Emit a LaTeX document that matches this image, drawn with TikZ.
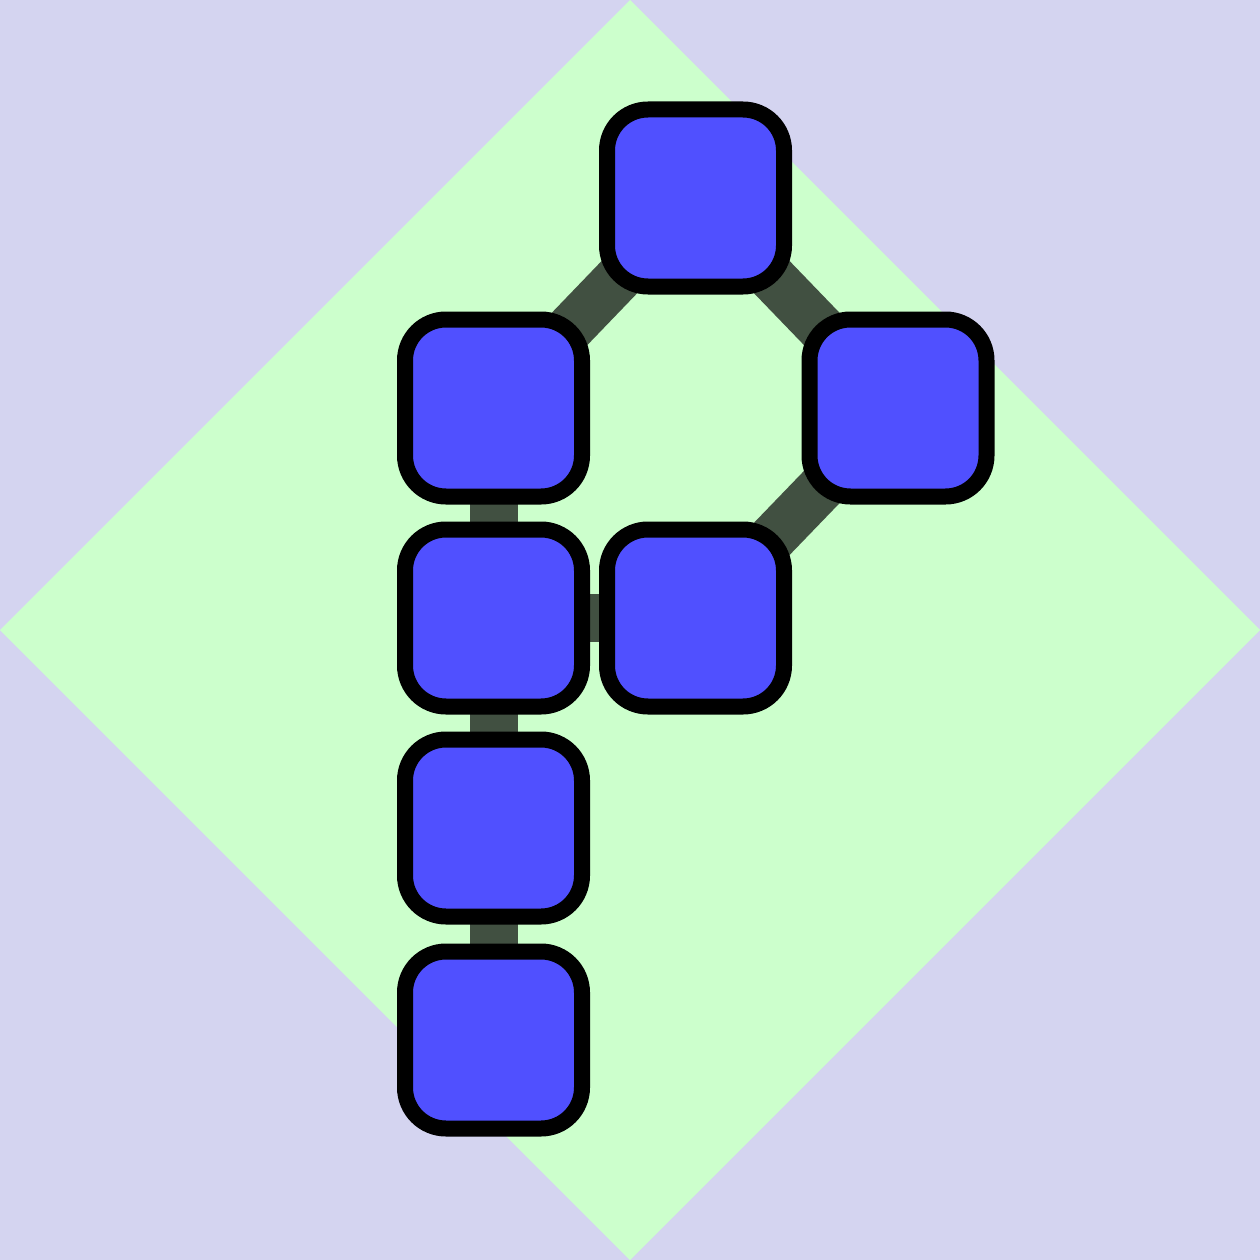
\documentclass[tikz,border=0pt]{standalone}
\usetikzlibrary{backgrounds}
\definecolor{bgl}{HTML}{D4D4F0}
\definecolor{dia}{HTML}{CCFFCC}
\definecolor{nodeblue}{HTML}{5050FF}
\definecolor{conn}{HTML}{415041}
\begin{document}
\begin{tikzpicture}[x=1pt,y=-1pt,
  sq/.style={draw=black,fill=nodeblue,line width=16pt,rounded corners=41pt,minimum size=177pt,inner sep=0pt,outer sep=0pt},
  link/.style={draw=conn,line width=48pt}]
\useasboundingbox (0,0) rectangle (1260,1260);
\node[sq] (top) at (695.5,198) {};
\node[sq] (la) at (493.5,408) {};
\node[sq] (rt) at (898,408) {};
\node[sq] (lb) at (493.5,618) {};
\node[sq] (md) at (695.5,618) {};
\node[sq] (lc) at (493.5,828) {};
\node[sq] (ld) at (493.5,1040) {};
\begin{scope}[on background layer]
\fill[bgl] (0,0) rectangle (1260,1260);
\fill[dia] (630,0) -- (1260,630) -- (630,1260) -- (0,630) -- cycle;
\draw[link] (top.center) -- (la.center);
\draw[link] (top.center) -- (rt.center);
\draw[link] (rt.center) -- (md.center);
\draw[link] (la.center) -- (lb.center);
\draw[link] (lb.center) -- (md.center);
\draw[link] (lb.center) -- (lc.center);
\draw[link] (lc.center) -- (ld.center);
\end{scope}
\end{tikzpicture}
\end{document}
